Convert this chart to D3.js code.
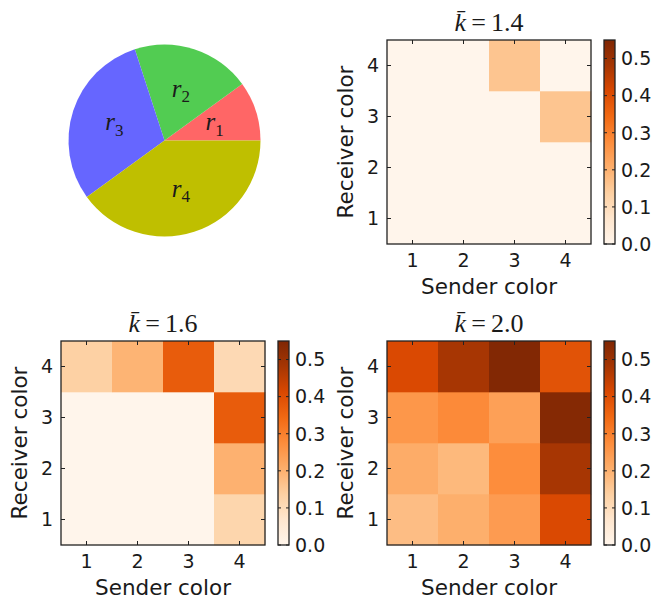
<!DOCTYPE html>
<html><head><meta charset="utf-8">
<script src="https://cdn.jsdelivr.net/npm/d3@7"></script>
<style>
html,body{margin:0;padding:0;background:#fff;}
svg{display:block;}
text{fill:#1a1a1a;}
</style></head>
<body>
<svg id="chart" width="657" height="598"></svg>
<script>
// ---------- data ----------
const pieLabels = ["1", "2", "3", "4"];
const pieValues = [0.1, 0.2, 0.3, 0.4];
const pieColors = ["#ff6666", "#52cc52", "#6666ff", "#bfbf00"];

const senderCats = [1, 2, 3, 4];
const receiverCats = [1, 2, 3, 4];
const colorbarTicks = [0.0, 0.1, 0.2, 0.3, 0.4, 0.5];
const vMax = 0.55;

// rows = receiver 1..4, columns = sender 1..4
const titleA = "1.4";
const matrixA = [
  [0.0, 0.0, 0.0, 0.0],
  [0.0, 0.0, 0.0, 0.0],
  [0.0, 0.0, 0.0, 0.16],
  [0.0, 0.0, 0.16, 0.0]
];
const titleB = "1.6";
const matrixB = [
  [0.0, 0.0, 0.0, 0.12],
  [0.0, 0.0, 0.0, 0.20],
  [0.0, 0.0, 0.0, 0.37],
  [0.135, 0.195, 0.37, 0.11]
];
const titleC = "2.0";
const matrixC = [
  [0.175, 0.205, 0.245, 0.41],
  [0.21, 0.185, 0.275, 0.48],
  [0.255, 0.28, 0.235, 0.54],
  [0.41, 0.48, 0.545, 0.39]
];

// matplotlib "Oranges" colormap (linear segments)
const orangesStops = ["#fff5eb","#fee6ce","#fdd0a2","#fdae6b","#fd8d3c","#f16913","#d94801","#a63603","#7f2704"];

// ---------- drawing ----------
const svg = d3.select("#chart");
const cmap = d3.scaleLinear()
  .domain(orangesStops.map((_, i) => i / (orangesStops.length - 1) * vMax))
  .range(orangesStops)
  .clamp(true);

const FRAME = "#222";
const TICKFONT = 19, LABELFONT = 21.5;
const SERIF = "'Liberation Serif','DejaVu Serif',serif";
const SANS = "'DejaVu Sans',sans-serif";

// Pie
(function drawPie() {
  const cx = 164.5, cy = 140.5, R = 96;
  const g = svg.append("g").attr("transform", `translate(${cx},${cy})`);
  const pie = d3.pie().sort(null).startAngle(Math.PI / 2).endAngle(Math.PI / 2 - 2 * Math.PI);
  const arcs = pie(pieValues);
  const arc = d3.arc().innerRadius(0).outerRadius(R);
  g.selectAll("path.slice").data(arcs).enter().append("path")
    .attr("class", "slice")
    .attr("d", arc)
    .attr("fill", (d, i) => pieColors[i]);
  g.selectAll("text.pl").data(arcs).enter().append("text")
    .attr("class", "pl")
    .attr("transform", d => {
      const a = (d.startAngle + d.endAngle) / 2; // d3 angle, clockwise from north
      const r = R * 0.55;
      return `translate(${r * Math.sin(a)},${-r * Math.cos(a)})`;
    })
    .attr("text-anchor", "middle")
    .attr("dy", "0.25em")
    .style("font-family", SERIF)
    .style("font-size", "25px")
    .each(function (d, i) {
      const t = d3.select(this);
      t.append("tspan").style("font-style", "italic").text("r");
      t.append("tspan").attr("dy", "0.3em").style("font-size", "17px").text(pieLabels[i]);
    });
})();

function heatmap(ox, oy, size, cbx, matrix, titleNum) {
  const W = size, H = size;
  const x = d3.scaleLinear().domain([0.5, 4.5]).range([ox, ox + W]);
  const y = d3.scaleLinear().domain([0.5, 4.5]).range([oy + H, oy]);
  const g = svg.append("g");
  const cells = [];
  matrix.forEach((row, ri) => row.forEach((v, ci) => cells.push({ r: receiverCats[ri], s: senderCats[ci], v })));
  g.selectAll("rect.cell").data(cells).enter().append("rect")
    .attr("class", "cell")
    .attr("x", d => x(d.s - 0.5))
    .attr("y", d => y(d.r + 0.5))
    .attr("width", d => x(d.s + 0.5) - x(d.s - 0.5) + 0.3)
    .attr("height", d => y(d.r - 0.5) - y(d.r + 0.5) + 0.3)
    .attr("fill", d => cmap(d.v));
  // ticks inward on all sides
  const tl = 4;
  senderCats.forEach(s => {
    g.append("line").attr("x1", x(s)).attr("x2", x(s)).attr("y1", oy + H).attr("y2", oy + H - tl).attr("stroke", FRAME);
    g.append("line").attr("x1", x(s)).attr("x2", x(s)).attr("y1", oy).attr("y2", oy + tl).attr("stroke", FRAME);
    g.append("text").attr("x", x(s)).attr("y", oy + H + 22.5).attr("text-anchor", "middle")
      .style("font-family", SANS).style("font-size", TICKFONT + "px").text(s);
  });
  receiverCats.forEach(r => {
    g.append("line").attr("x1", ox).attr("x2", ox + tl).attr("y1", y(r)).attr("y2", y(r)).attr("stroke", FRAME);
    g.append("line").attr("x1", ox + W).attr("x2", ox + W - tl).attr("y1", y(r)).attr("y2", y(r)).attr("stroke", FRAME);
    g.append("text").attr("x", ox - 8).attr("y", y(r)).attr("dy", "0.36em").attr("text-anchor", "end")
      .style("font-family", SANS).style("font-size", TICKFONT + "px").text(r);
  });
  g.append("rect").attr("x", ox).attr("y", oy).attr("width", W).attr("height", H)
    .attr("fill", "none").attr("stroke", FRAME).attr("stroke-width", 1.3);
  // axis labels
  g.append("text").attr("x", ox + W / 2).attr("y", oy + H + 49.5).attr("text-anchor", "middle")
    .style("font-family", SANS).style("font-size", LABELFONT + "px").text("Sender color");
  g.append("text").attr("transform", `translate(${ox - 34},${oy + H / 2}) rotate(-90)`).attr("text-anchor", "middle")
    .style("font-family", SANS).style("font-size", LABELFONT + "px").text("Receiver color");
  // title
  const t = g.append("text").attr("x", ox + W / 2).attr("y", oy - 9).attr("text-anchor", "middle")
    .style("font-family", SERIF).style("font-size", "26px");
  t.append("tspan").style("font-style", "italic").text("k\u0304");
  t.append("tspan").text("\u2009=\u2009" + titleNum);

  // colorbar
  const cbW = 11;
  const cy = d3.scaleLinear().domain([0, vMax]).range([oy + H, oy]);
  const gid = "grad" + Math.round(ox) + "_" + Math.round(oy);
  const grad = svg.append("defs").append("linearGradient").attr("id", gid)
    .attr("x1", 0).attr("y1", 1).attr("x2", 0).attr("y2", 0);
  orangesStops.forEach((c, i) => grad.append("stop").attr("offset", i / (orangesStops.length - 1)).attr("stop-color", c));
  g.append("rect").attr("x", cbx).attr("y", oy).attr("width", cbW).attr("height", H).attr("fill", `url(#${gid})`);
  colorbarTicks.forEach(v => {
    g.append("line").attr("x1", cbx).attr("x2", cbx + 3).attr("y1", cy(v)).attr("y2", cy(v)).attr("stroke", FRAME);
    g.append("line").attr("x1", cbx + cbW).attr("x2", cbx + cbW - 3).attr("y1", cy(v)).attr("y2", cy(v)).attr("stroke", FRAME);
    g.append("text").attr("x", cbx + cbW + 6).attr("y", cy(v)).attr("dy", "0.36em")
      .style("font-family", SANS).style("font-size", TICKFONT + "px").text(v.toFixed(1));
  });
  g.append("rect").attr("x", cbx).attr("y", oy).attr("width", cbW).attr("height", H)
    .attr("fill", "none").attr("stroke", FRAME).attr("stroke-width", 1.3);
}

heatmap(387, 40, 204, 604, matrixA, titleA);
heatmap(61, 341, 204, 278, matrixB, titleB);
heatmap(387, 341, 204, 604, matrixC, titleC);
</script>
</body></html>
